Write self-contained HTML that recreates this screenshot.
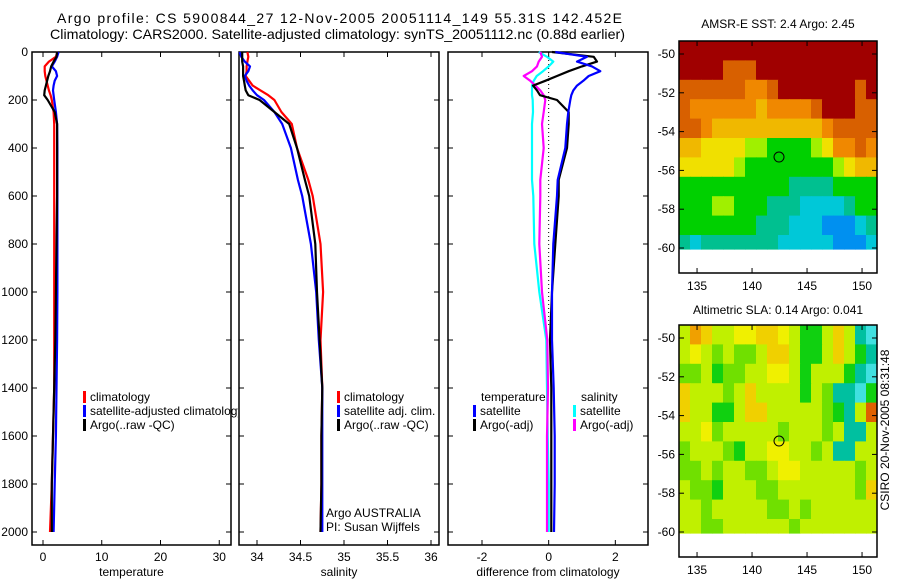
<!DOCTYPE html>
<html><head><meta charset="utf-8"><style>
body{margin:0;background:#fff}
svg{display:block;font-family:"Liberation Sans",sans-serif}
</style></head><body>
<svg id="fig" width="900" height="580" viewBox="0 0 900 580" xmlns="http://www.w3.org/2000/svg">
<defs><clipPath id="clip1"><rect x="0" y="0" width="238" height="580"/></clipPath></defs>
<text x="57" y="23" font-size="14" textLength="565" lengthAdjust="spacing">Argo profile: CS 5900844_27 12-Nov-2005 20051114_149 55.31S 142.452E</text>
<text x="50" y="39" font-size="14" textLength="575" lengthAdjust="spacingAndGlyphs">Climatology: CARS2000. Satellite-adjusted climatology: synTS_20051112.nc (0.88d earlier)</text>
<text x="778" y="28" font-size="12" text-anchor="middle">AMSR-E SST: 2.4 Argo: 2.45</text>
<text x="778" y="314" font-size="12" text-anchor="middle">Altimetric SLA: 0.14 Argo: 0.041</text>
<text x="0" y="0" font-size="12" text-anchor="middle" transform="translate(889,430) rotate(-90)">CSIRO 20-Nov-2005 08:31:48</text>
<g id="plots"></g>
</svg>
<script>
// ---- depth grid (shared) ----
const depths = [0,20,40,60,80,100,120,140,160,180,200,250,300,400,533,600,800,1000,1200,1400,1600,1800,2000];
// temperature profiles
const tempClim = [2.45,2.2,1.0,0.3,0.3,0.4,0.6,0.8,1.0,1.3,1.5,1.8,1.9,1.9,1.9,1.9,1.9,1.9,1.9,1.9,1.7,1.5,1.2];
const tempSat  = [2.65,2.4,2.0,1.5,2.2,2.4,2.0,1.8,1.7,1.8,1.9,2.2,2.4,2.45,2.45,2.45,2.45,2.45,2.4,2.3,2.2,2.0,1.8];
const tempArgo = [2.4,2.3,1.8,1.4,1.2,0.9,0.7,0.5,0.3,0.2,0.8,2.0,2.4,2.4,2.4,2.4,2.3,2.2,2.1,1.9,1.7,1.5,1.5];
// salinity profiles
const salClim = [33.89,33.9,33.89,33.88,33.88,33.87,33.91,33.95,34.04,34.13,34.2,34.28,34.4,34.46,34.59,34.64,34.73,34.76,34.73,34.75,34.74,34.74,34.73];
const salSat  = [33.8,33.82,33.86,33.92,33.9,33.86,33.88,33.91,33.95,34.0,34.08,34.2,34.29,34.39,34.47,34.52,34.62,34.68,34.71,34.75,34.75,34.75,34.75];
const salArgo = [33.83,33.83,33.83,33.84,33.84,33.84,33.85,33.86,33.87,33.9,34.03,34.2,34.37,34.46,34.55,34.6,34.67,34.69,34.72,34.75,34.74,34.74,34.73];
// differences from climatology
const dTempSat  = [0.2,1.15,0.85,1.3,1.55,1.2,1.04,0.85,0.74,0.68,0.65,0.59,0.55,0.5,0.27,0.25,0.14,0.1,0.1,0.15,0.18,0.18,0.16];
const dTempArgo = [0.1,1.35,1.45,1.0,0.6,0.25,-0.1,-0.47,-0.35,-0.26,0.25,0.6,0.6,0.55,0.3,0.3,0.2,0.1,0.04,0.08,0.08,0.08,0.08];
const dSalSat   = [-0.3,-0.05,0.14,0.0,-0.17,-0.36,-0.45,-0.5,-0.5,-0.5,-0.48,-0.47,-0.5,-0.5,-0.5,-0.46,-0.43,-0.28,-0.07,-0.05,-0.03,0,0];
const dSalArgo  = [-0.25,-0.2,-0.3,-0.35,-0.5,-0.75,-0.55,-0.4,-0.25,-0.15,-0.1,-0.15,-0.2,-0.15,-0.25,-0.25,-0.28,-0.2,-0.04,-0.02,-0.05,-0.05,-0.05];
// tick labels
const depthTicks = [0,200,400,600,800,1000,1200,1400,1600,1800,2000];
const tempTicks = [0,10,20,30];
const salTicks = [34,34.5,35,35.5,36];
const diffTicks = [-2,0,2];
const lonTicks = [135,140,145,150];
const latTicks = [-50,-52,-54,-56,-58,-60];
// map grids (rows from -49.3 southward by 1 deg, cols from 133.4 eastward by 1 deg)
const sstGrid = [
[9,9,9,9,9,9,9,9,9,9,9,9,9,9,9,9,9,9],
[9,9,9,9,8,8,8,9,9,9,9,9,9,9,9,9,9,9],
[8,8,8,8,8,8,7,7,8,9,9,9,9,9,9,9,8,9],
[8,7,7,7,7,7,7,6,7,7,7,7,8,9,9,9,8,8],
[8,8,7,6,6,6,6,6,6,6,6,6,6,7,8,8,8,8],
[6,6,5,5,5,5,4,4,3,3,3,3,4,5,7,7,8,7],
[5,5,5,5,5,4,3,3,3,3,3,3,3,3,4,5,6,6],
[3,3,3,3,3,3,3,3,3,3,2,2,2,2,3,3,3,3],
[3,3,3,4,4,3,3,3,2,2,2,1,1,1,1,2,3,3],
[3,3,3,3,3,3,3,2,2,2,1,1,1,0,0,0,1,2],
[2,1,2,2,2,2,2,2,2,1,1,1,1,1,0,0,0,1]];
const slaGrid = [
[4,7,6,4,4,5,5,6,6,5,4,2,2,4,6,4,1,0],
[4,5,4,3,4,3,3,4,6,6,4,2,2,4,6,4,2,1],
[3,3,4,2,3,3,4,4,5,5,4,2,4,4,4,2,1,0],
[6,4,4,4,3,4,6,4,4,4,4,2,4,3,1,1,0,2],
[6,4,4,2,2,4,6,6,4,4,4,4,4,3,2,1,4,8],
[4,4,5,3,4,4,4,4,4,3,4,4,4,3,4,1,1,4],
[3,4,4,4,3,2,4,4,5,5,4,4,3,4,1,1,4,4],
[3,3,4,3,4,4,3,3,4,5,5,4,4,4,4,4,3,4],
[4,3,3,2,4,4,4,3,3,4,4,4,4,4,4,4,3,6],
[4,4,3,4,4,4,4,4,3,3,4,3,4,4,4,4,4,4],
[4,4,3,3,4,4,4,4,4,4,3,4,4,4,4,4,4,4]];
const argoLon = 142.452, argoLat = -55.31;

const NS='http://www.w3.org/2000/svg';
const G=document.getElementById('plots');
function el(tag,attrs,parent){const e=document.createElementNS(NS,tag);for(const k in attrs)e.setAttribute(k,attrs[k]);(parent||G).appendChild(e);return e;}
function txt(x,y,s,anchor,size,parent){const t=el('text',{x:x,y:y,'font-size':size||12,'text-anchor':anchor||'start'},parent);t.textContent=s;return t;}

const yD = d => 52 + d*0.24;
const panels = [
 {name:'temperature',x0:32,x1:231,v0:-1.87,v1:32.0,ticks:tempTicks,title:'temperature'},
 {name:'salinity',x0:239,x1:439,v0:33.793,v1:36.092,ticks:salTicks,title:'salinity'},
 {name:'difference',x0:448,x1:648,v0:-3.02,v1:2.98,ticks:diffTicks,title:'difference from climatology'}];
panels.forEach((p,i)=>{
  p.sx = v => p.x0 + (v-p.v0)/(p.v1-p.v0)*(p.x1-p.x0);
  const g=el('g',{});
  
  
  const fr=el('rect',{x:p.x0,y:52,width:p.x1-p.x0,height:493,fill:'none',stroke:'#000','stroke-width':1.5},g);
  
  
  depthTicks.forEach(d=>{
    el('line',{x1:p.x0,x2:p.x0+5,y1:yD(d),y2:yD(d),stroke:'#000'},g);
    el('line',{x1:p.x1,x2:p.x1-5,y1:yD(d),y2:yD(d),stroke:'#000'},g);
    if(i===0){const t=txt(28,yD(d)+4,String(d),'end',12,g);
      
      }
  });
  p.ticks.forEach(v=>{
    const x=p.sx(v);
    el('line',{x1:x,x2:x,y1:545,y2:540,stroke:'#000'},g);
    el('line',{x1:x,x2:x,y1:52,y2:57,stroke:'#000'},g);
    const t=txt(x,561,String(v),'middle',12,g);
    
    
  });
  const at=txt((p.x0+p.x1)/2,576,p.title,'middle',12,g);
  
  
});
function line(p,vals,color,name){
  const pts=vals.map((v,k)=>p.sx(v).toFixed(1)+','+yD(depths[k]).toFixed(1)).join(' ');
  const pl=el('polyline',{points:pts,fill:'none',stroke:color,'stroke-width':2.2,'stroke-linejoin':'round'});
  
  
}
const P=panels;
const zl=el('line',{x1:P[2].sx(0),x2:P[2].sx(0),y1:yD(0),y2:yD(1150),stroke:'#000','stroke-dasharray':'1,3'});


line(P[0],tempClim,'#f00','temp-climatology-line');
line(P[0],tempSat,'#00f','temp-satellite-line');
line(P[0],tempArgo,'#000','temp-argo-line');
line(P[1],salClim,'#f00','sal-climatology-line');
line(P[1],salSat,'#00f','sal-satellite-line');
line(P[1],salArgo,'#000','sal-argo-line');
line(P[2],dSalSat,'#0ff','diff-sal-satellite-line');
line(P[2],dSalArgo,'#f0f','diff-sal-argo-line');
line(P[2],dTempArgo,'#000','diff-temp-argo-line');
line(P[2],dTempSat,'#00f','diff-temp-satellite-line');

function legend(x,y,color,label,name,clip){
  const g=el('g',{});
  
  
  if(clip) g.setAttribute('clip-path','url(#clip1)');
  if(color) el('rect',{x:x,y:y-10,width:3,height:12,fill:color},g);
  txt(x+7,y,label,'start',12,g);
}
legend(83,401,'#f00','climatology','legend-climatology',true);
legend(83,415,'#00f','satellite-adjusted climatology','legend-satellite-adjusted',true);
legend(83,429,'#000','Argo(..raw -QC)','legend-argo-temp',true);
legend(337,401,'#f00','climatology','legend-sal-climatology');
legend(337,415,'#00f','satellite adj. clim.','legend-sal-satellite');
legend(337,429,'#000','Argo(..raw -QC)','legend-sal-argo');
legend(474,401,null,'temperature','legend-temperature-heading');
legend(473,415,'#00f','satellite','legend-diff-temp-satellite');
legend(473,429,'#000','Argo(-adj)','legend-diff-temp-argo');
legend(574,401,null,'salinity','legend-salinity-heading');
legend(573,415,'#0ff','satellite','legend-diff-sal-satellite');
legend(573,429,'#f0f','Argo(-adj)','legend-diff-sal-argo');
const n1=txt(326,517,'Argo AUSTRALIA','start',12);


const n2=txt(326,531,'PI: Susan Wijffels','start',12);


// maps
const sstColors=['#0090f0','#00c8d8','#00c090','#00d000','#a0f000','#f0e000','#f0b800','#f08800','#d86000','#a00000'];
const slaColors=['#40e0e0','#00c0a0','#10d010','#70e000','#c0f000','#f0f000','#f0d000','#f0a000','#e06000'];
function map(grid,colors,top,name){
  const x0=679,x1=877,lonA=133.36,lonB=151.36;
  const lat50=top+13, px=(x1-x0)/(lonB-lonA), py=19.4;
  const sx=lo=>x0+(lo-lonA)*px, sy=la=>lat50+(-50-la)*py;
  const g=el('g',{});
  
  
  const y0=top;
  grid.forEach((row,r)=>row.forEach((v,c)=>{
    const la0=-49.33-r, la1=Math.max(-60.05,la0-1);
    const cell=el('rect',{x:sx(lonA+c).toFixed(1),y:sy(la0).toFixed(1),width:(px+0.6).toFixed(1),height:(sy(la1)-sy(la0)+0.6).toFixed(1),fill:colors[v]},g);
    
    
  }));
  el('rect',{x:x0,y:y0,width:x1-x0,height:232,fill:'none',stroke:'#000','stroke-width':1.5},g);
  latTicks.forEach(la=>{
    el('line',{x1:x0,x2:x0+5,y1:sy(la),y2:sy(la),stroke:'#000'},g);
    el('line',{x1:x1,x2:x1-5,y1:sy(la),y2:sy(la),stroke:'#000'},g);
    const t=txt(x0-4,sy(la)+4,String(la),'end',12,g);
    
    
  });
  lonTicks.forEach(lo=>{
    el('line',{x1:sx(lo),x2:sx(lo),y1:y0,y2:y0+5,stroke:'#000'},g);
    el('line',{x1:sx(lo),x2:sx(lo),y1:y0+232,y2:y0+227,stroke:'#000'},g);
    const t=txt(sx(lo),y0+249,String(lo),'middle',12,g);
    
    
  });
  const c=el('circle',{cx:sx(argoLon),cy:sy(argoLat),r:5,fill:'none',stroke:'#000'},g);
  
  
}
map(sstGrid,sstColors,41,'sst-map');
map(slaGrid,slaColors,325,'sla-map');
</script>
</body></html>
